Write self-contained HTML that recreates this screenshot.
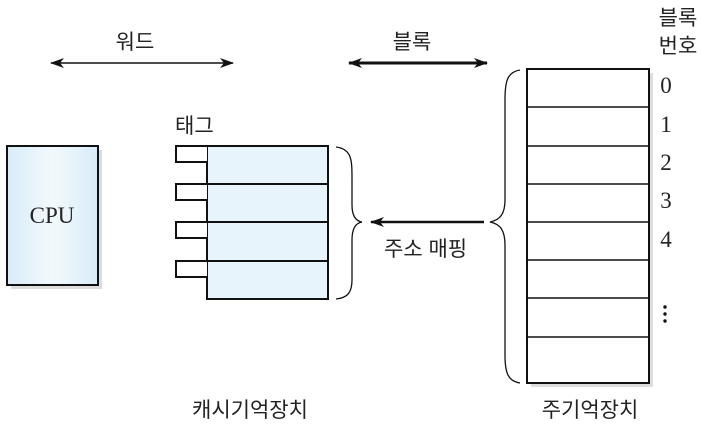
<!DOCTYPE html><html><head><meta charset="utf-8"><style>
body{margin:0;background:#fff;width:701px;height:432px;overflow:hidden}
svg text{font-family:"Liberation Sans","Noto Sans CJK KR",sans-serif;font-size:21px;fill:#222}
svg text.s{font-family:"Liberation Serif",serif;font-size:23px}
</style></head><body>
<svg width="701" height="432" xmlns="http://www.w3.org/2000/svg">
<defs><linearGradient id="g" x1="0" x2="1"><stop offset="0" stop-color="#d8ecf8"/><stop offset="0.5" stop-color="#f2f9fd"/><stop offset="1" stop-color="#d8ecf8"/></linearGradient>
<marker id="a" markerWidth="14" markerHeight="10" refX="13" refY="5" orient="auto-start-reverse" markerUnits="userSpaceOnUse"><path d="M0,0 L14,5 L0,10 L4,5z" fill="#111"/></marker></defs>
<text x="135" y="49" text-anchor="middle">워드</text>
<line x1="51" y1="63" x2="233" y2="63" stroke="#111" stroke-width="1.6" marker-start="url(#a)" marker-end="url(#a)"/>
<text x="412" y="49" text-anchor="middle">블록</text>
<line x1="349" y1="63" x2="487" y2="63" stroke="#111" stroke-width="3" marker-start="url(#a)" marker-end="url(#a)"/>
<text x="678" y="25" text-anchor="middle">블록</text>
<text x="678" y="53" text-anchor="middle">번호</text>
<rect x="11" y="150" width="91" height="139" fill="#ddd"/>
<rect x="7" y="146" width="91" height="139" fill="url(#g)" stroke="#111" stroke-width="2"/>
<text x="52" y="223" text-anchor="middle" class="s">CPU</text>
<text x="175" y="133">태그</text>
<rect x="207" y="146" width="121" height="153" fill="#e8f4fc" stroke="#111" stroke-width="2"/>
<g stroke="#111" stroke-width="2" fill="#fff">
<line x1="207" y1="184" x2="328" y2="184"/><line x1="207" y1="222" x2="328" y2="222"/><line x1="207" y1="261" x2="328" y2="261"/>
<path d="M207,146 H176 V162 H207"/><path d="M207,184 H176 V200 H207"/><path d="M207,222 H176 V238 H207"/><path d="M207,261 H176 V277 H207"/>
</g>
<path d="M336,147 C352,149 352,160 352,180 L352,205 C352,216 356,221 362,222 C356,223 352,228 352,240 L352,280 C352,294 346,298 336,299" fill="none" stroke="#111" stroke-width="1.3"/>
<line x1="484" y1="222" x2="371" y2="222" stroke="#111" stroke-width="2.5" marker-end="url(#a)"/>
<text x="384" y="256">주소 매핑</text>
<path d="M520,70 C507,72 505,82 505,100 L505,200 C505,214 500,220 490,222 C500,224 505,230 505,245 L505,355 C505,373 508,381 520,383" fill="none" stroke="#111" stroke-width="1.3"/>
<rect x="531" y="73" width="122" height="314" fill="#ddd"/>
<rect x="527" y="69" width="122" height="314" fill="#fff" stroke="#111" stroke-width="2"/>
<g stroke="#111" stroke-width="1.5">
<line x1="527" y1="107" x2="649" y2="107"/><line x1="527" y1="146" x2="649" y2="146"/><line x1="527" y1="184" x2="649" y2="184"/><line x1="527" y1="222" x2="649" y2="222"/><line x1="527" y1="260" x2="649" y2="260"/><line x1="527" y1="298" x2="649" y2="298"/><line x1="527" y1="337" x2="649" y2="337"/>
</g>
<text class="s" x="666" y="93" text-anchor="middle">0</text><text class="s" x="666" y="132" text-anchor="middle">1</text><text class="s" x="666" y="170" text-anchor="middle">2</text><text class="s" x="666" y="208" text-anchor="middle">3</text><text class="s" x="666" y="247" text-anchor="middle">4</text>
<g fill="#111"><circle cx="665" cy="307" r="1.7"/><circle cx="665" cy="314" r="1.7"/><circle cx="665" cy="321" r="1.7"/></g>
<text x="250" y="417" text-anchor="middle">캐시기억장치</text>
<text x="590" y="417" text-anchor="middle">주기억장치</text>
</svg></body></html>
